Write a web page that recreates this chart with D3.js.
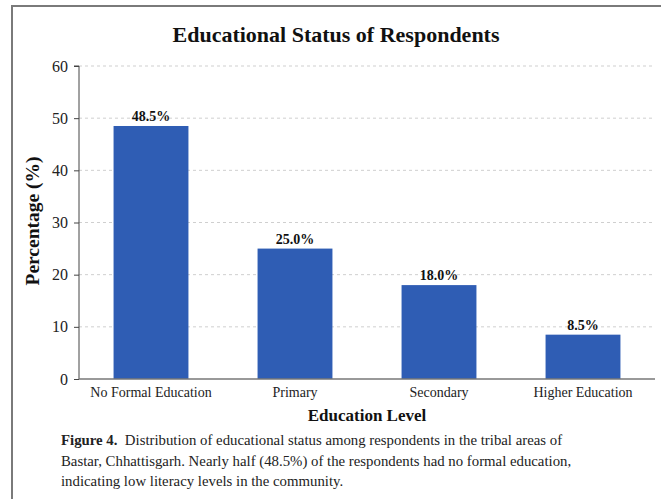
<!DOCTYPE html>
<html><head><meta charset="utf-8">
<script src="https://cdn.jsdelivr.net/npm/d3@7"></script>
<style>
html,body{margin:0;padding:0;background:#fff;}
svg{display:block;}
</style></head>
<body>
<script>
const categories = ["No Formal Education", "Primary", "Secondary", "Higher Education"];
const values = [48.5, 25.0, 18.0, 8.5];
const yTicks = [0, 10, 20, 30, 40, 50, 60];
const title = "Educational Status of Respondents";
const xTitle = "Education Level";
const yTitle = "Percentage (%)";
const captionBold = "Figure 4.";
const captionLines = [
  "Distribution of educational status among respondents in the tribal areas of",
  "Bastar, Chhattisgarh. Nearly half (48.5%) of the respondents had no formal education,",
  "indicating low literacy levels in the community."
];

const W = 661, H = 499;
const serif = "'Liberation Serif', 'Times New Roman', serif";
const svg = d3.select("body").append("svg").attr("width", W).attr("height", H);
svg.append("rect").attr("width", W).attr("height", H).attr("fill", "#fff");
// frame
svg.append("path").attr("d", `M12,${H} L12,6 L${W},6`).attr("fill", "none").attr("stroke", "#7a7a7a").attr("stroke-width", 2);

const m = {left: 79, right: 655, top: 66, bottom: 379};
const x = d3.scaleBand().domain(categories).range([m.left, m.right]).paddingInner(0.48).paddingOuter(0.24);
const y = d3.scaleLinear().domain([0, 60]).range([m.bottom, m.top]);

// grid
svg.append("g").selectAll("line").data(yTicks.filter(d => d > 0)).join("line")
  .attr("x1", m.left).attr("x2", m.right).attr("y1", d => y(d)).attr("y2", d => y(d))
  .attr("stroke", "#cfcfcf").attr("stroke-width", 1).attr("stroke-dasharray", "3,3");

// bars
svg.append("g").selectAll("rect").data(values).join("rect")
  .attr("x", (d, i) => x(categories[i])).attr("width", x.bandwidth())
  .attr("y", d => y(d)).attr("height", d => y(0) - y(d))
  .attr("fill", "#2f5db4");

// value labels
svg.append("g").selectAll("text").data(values).join("text")
  .attr("x", (d, i) => x(categories[i]) + x.bandwidth() / 2).attr("y", d => y(d) - 5)
  .attr("text-anchor", "middle").attr("font-family", serif).attr("font-weight", "bold")
  .attr("font-size", 14).attr("fill", "#111").text(d => d.toFixed(1) + "%");

// y axis
const yAxis = svg.append("g").attr("transform", `translate(${m.left},0)`)
  .call(d3.axisLeft(y).tickValues(yTicks).tickSize(5).tickPadding(6))
  .attr("font-family", serif).attr("font-size", 16);
yAxis.select(".domain").attr("stroke", "#444").attr("d", `M-5,${m.top}H0V${m.bottom}`);
yAxis.selectAll(".tick line").attr("stroke", "#444");
yAxis.selectAll("text").attr("font-family", serif).attr("font-size", 16).attr("fill", "#222");

// x axis
const xAxis = svg.append("g").attr("transform", `translate(0,${m.bottom})`)
  .call(d3.axisBottom(x).tickSize(0).tickPadding(8))
  .attr("font-family", serif).attr("font-size", 14);
xAxis.select(".domain").attr("stroke", "#777").attr("stroke-width", 1.5).attr("d", `M${m.left},0H${m.right}`);
xAxis.selectAll("text").attr("font-family", serif).attr("font-size", 14).attr("fill", "#222");

// titles
svg.append("text").attr("x", 336).attr("y", 42).attr("text-anchor", "middle")
  .attr("font-family", serif).attr("font-weight", "bold").attr("font-size", 22).attr("fill", "#111").text(title);
svg.append("text").attr("x", 367).attr("y", 421).attr("text-anchor", "middle")
  .attr("font-family", serif).attr("font-weight", "bold").attr("font-size", 17).attr("fill", "#111").text(xTitle);
svg.append("text").attr("transform", "translate(39,221) rotate(-90)").attr("text-anchor", "middle")
  .attr("font-family", serif).attr("font-weight", "bold").attr("font-size", 19.5).attr("fill", "#111").text(yTitle);

// caption
const cap = svg.append("g").attr("font-family", serif).attr("font-size", 14.8).attr("fill", "#222");
captionLines.forEach((line, i) => {
  const t = cap.append("text").attr("x", 61).attr("y", 445 + i * 20.5);
  if (i === 0) {
    t.append("tspan").attr("font-weight", "bold").text(captionBold);
    t.append("tspan").text("\u00a0\u00a0" + line);
  } else {
    t.text(line);
  }
});
</script>
</body></html>
